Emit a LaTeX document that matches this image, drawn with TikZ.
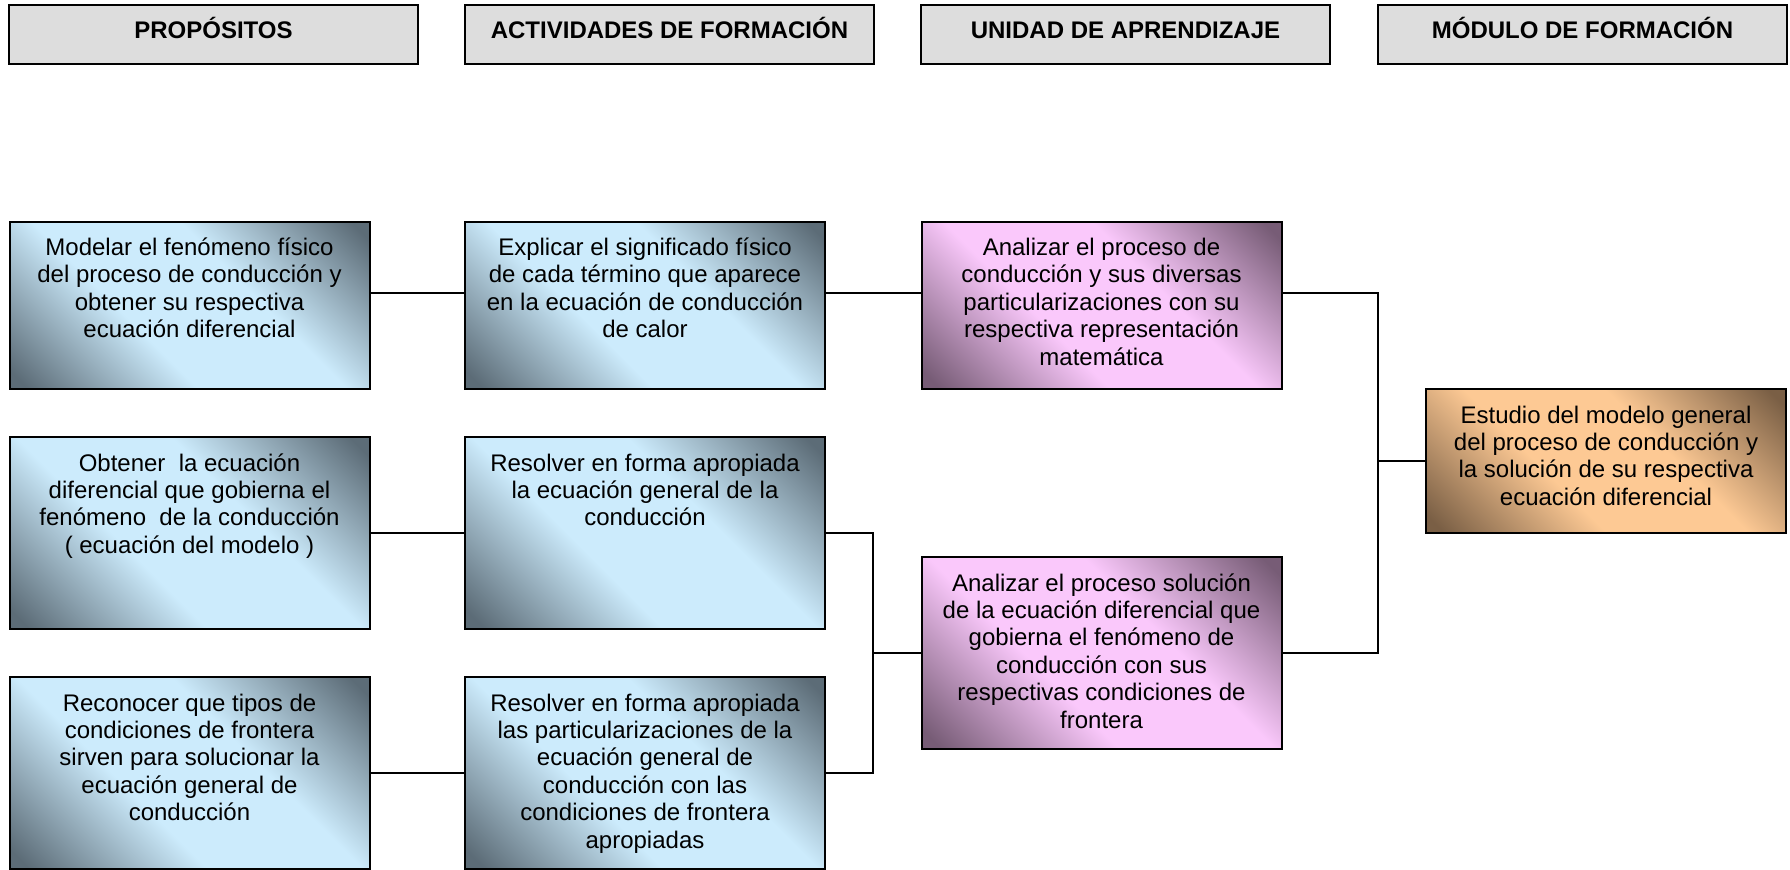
\documentclass[tikz,border=0pt]{standalone}
\usepackage{fontspec}
\setmainfont{Liberation Sans}

\definecolor{grisCab}{HTML}{DDDDDD}
\definecolor{azulClaro}{HTML}{CCEBFC}
\definecolor{azulOscuro}{HTML}{5C6C77}
\definecolor{rosaClaro}{HTML}{FAC8FB}
\definecolor{rosaOscuro}{HTML}{775C76}
\definecolor{durClaro}{HTML}{FDC994}
\definecolor{durOscuro}{HTML}{7A5F45}

\pgfdeclareverticalshading{azul}{100bp}{color(0bp)=(azulOscuro); color(17bp)=(azulOscuro); color(40bp)=(azulClaro); color(60bp)=(azulClaro); color(83bp)=(azulOscuro); color(100bp)=(azulOscuro)}
\pgfdeclareverticalshading{rosa}{100bp}{color(0bp)=(rosaOscuro); color(17bp)=(rosaOscuro); color(40bp)=(rosaClaro); color(60bp)=(rosaClaro); color(83bp)=(rosaOscuro); color(100bp)=(rosaOscuro)}
\pgfdeclareverticalshading{durazno}{100bp}{color(0bp)=(durOscuro); color(17bp)=(durOscuro); color(40bp)=(durClaro); color(60bp)=(durClaro); color(83bp)=(durOscuro); color(100bp)=(durOscuro)}

\def\texto#1#2{\vbox to #1{\hsize=180pt\parindent=0pt\centering\vskip 7.4pt\relax\strut#2\par\vfil}}

\tikzset{
	cabecera/.style={draw, line width=1pt, fill=grisCab, minimum width=204.5pt, minimum height=29.5pt, inner sep=0pt, text height=9pt, text depth=4.4pt, font=\fontsize{12}{14}\selectfont\bfseries},
	caja/.style={draw, line width=1pt, inner sep=0pt, shade, shading angle=-45, font=\fontsize{12}{13.7}\selectfont},
	cajaazul/.style={caja, shading=azul},
	cajarosa/.style={caja, shading=rosa},
	cajadur/.style={caja, shading=durazno},
	linea/.style={line width=1pt},
}

\begin{document}
\begin{tikzpicture}[x=0.5pt, y=-0.5pt]
		%%%%% START %%%%%
		\useasboundingbox (0, 0) rectangle (1790, 869);
		
		\node[cabecera] (hprop) at (213.5, 34) {PROPÓSITOS};
		\node[cabecera] (hact) at (669.5, 34) {ACTIVIDADES DE FORMACIÓN};
		\node[cabecera] (huni) at (1125.5, 34) {UNIDAD DE APRENDIZAJE};
		\node[cabecera] (hmod) at (1582.5, 34) {MÓDULO DE FORMACIÓN};
		
		\node[cajaazul] (modelar) at (189.5, 305.4) {\texto{83.9pt}{Modelar el fenómeno físico\\ del proceso de conducción y\\ obtener su respectiva\\ ecuación diferencial}};
		\node[cajaazul] (explicar) at (645, 305.4) {\texto{83.9pt}{Explicar el significado físico\\ de cada término que aparece\\ en la ecuación de conducción\\ de calor}};
		\node[cajarosa] (analizarA) at (1101.5, 305.4) {\texto{83.9pt}{Analizar el proceso de\\ conducción y sus diversas\\ particularizaciones con su\\ respectiva representación\\ matemática}};
		
		\node[cajaazul] (obtener) at (189.5, 533) {\texto{95.9pt}{Obtener\ \ la ecuación\\ diferencial que gobierna el\\ fenómeno\ \ de la conducción\\ ( ecuación del modelo )}};
		\node[cajaazul] (resolverA) at (645, 533) {\texto{95.9pt}{Resolver en forma apropiada\\ la ecuación general de la\\ conducción}};
		
		\node[cajaazul] (reconocer) at (189.5, 773) {\texto{95.9pt}{Reconocer que tipos de\\ condiciones de frontera\\ sirven para solucionar la\\ ecuación general de\\ conducción}};
		\node[cajaazul] (resolverB) at (645, 773) {\texto{95.9pt}{Resolver en forma apropiada\\ las particularizaciones de la\\ ecuación general de\\ conducción con las\\ condiciones de frontera\\ apropiadas}};
		
		\node[cajarosa] (analizarB) at (1101.5, 653) {\texto{95.9pt}{Analizar el proceso solución\\ de la ecuación diferencial que\\ gobierna el fenómeno de\\ conducción con sus\\ respectivas condiciones de\\ frontera}};
		
		\node[cajadur] (estudio) at (1606, 461) {\texto{71.9pt}{Estudio del modelo general\\ del proceso de conducción y\\ la solución de su respectiva\\ ecuación diferencial}};
		
		\coordinate (unionA) at (873, 653);
		\coordinate (unionB) at (1378, 461);
		
		\draw[linea] ([yshift=6pt]modelar.east) -- ([yshift=6pt]explicar.west);
		\draw[linea] ([yshift=6pt]explicar.east) -- ([yshift=6pt]analizarA.west);
		\draw[linea] (obtener.east) -- (resolverA.west);
		\draw[linea] (reconocer.east) -- (resolverB.west);
		
		\draw[linea] (resolverA.east) -| (unionA) |- (resolverB.east);
		\draw[linea] (unionA) -- (analizarB.west);
		
		\draw[linea] ([yshift=6pt]analizarA.east) -| (unionB) |- (analizarB.east);
		\draw[linea] (unionB) -- (estudio.west);
		
		%%%%% END %%%%%
\end{tikzpicture}
\end{document}
